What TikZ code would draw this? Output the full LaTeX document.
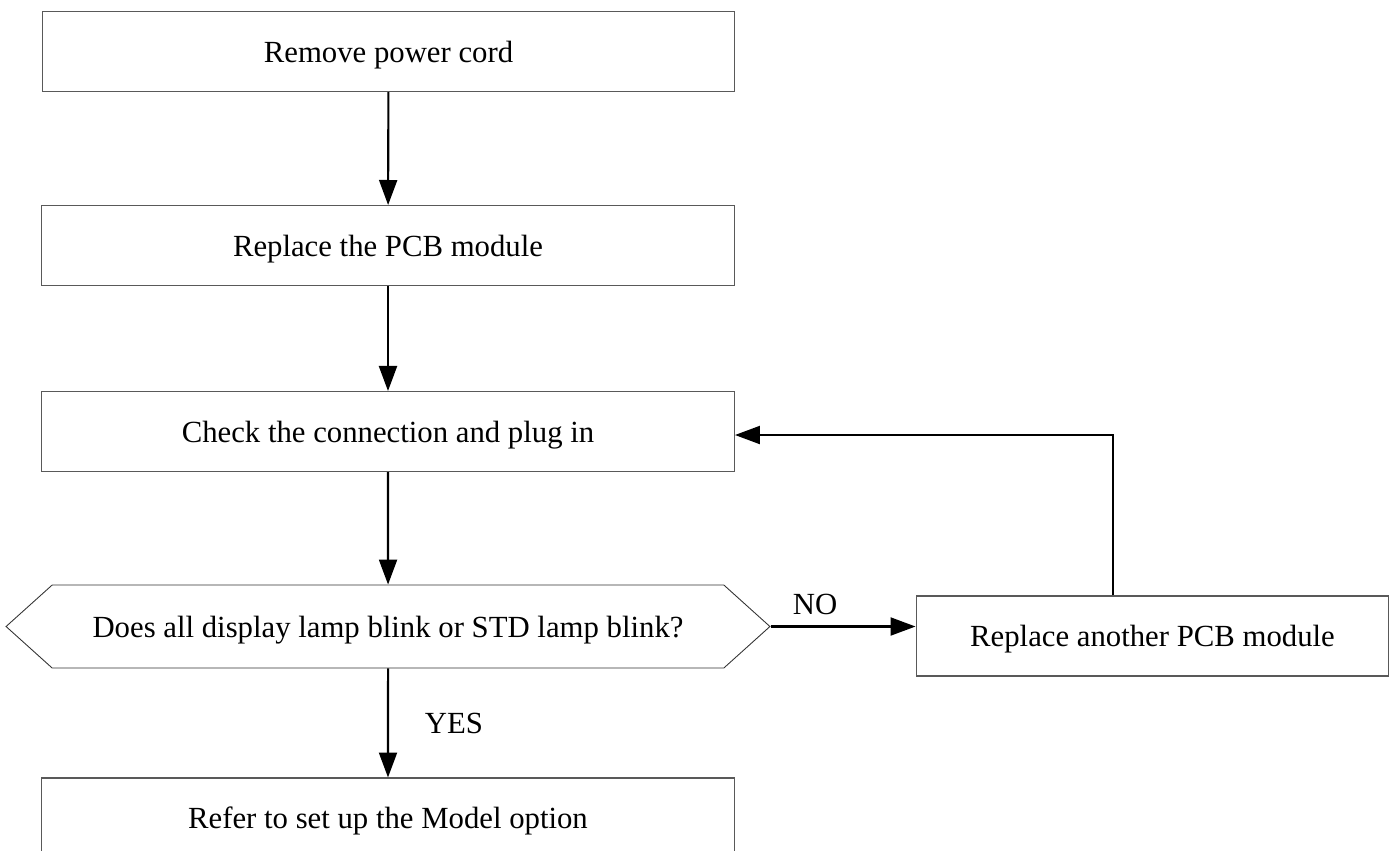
\documentclass[tikz,border=0pt]{standalone}
\usepackage{fontspec}
\setmainfont{Liberation Serif}
\usetikzlibrary{arrows.meta,shapes.symbols}

\begin{document}
\begin{tikzpicture}
          [x=0.02cm,y=-0.02cm,font=\fontsize{17.5}{21}\selectfont,
           stepbox/.style={draw=black!65, line width=.6pt, rectangle, inner sep = 0pt, text depth = 0pt, minimum height = 1.6cm, minimum width = 13.86cm, align = center},
           decision/.style={draw=black!80, line width=.5pt, signal, signal to=west and east, signal pointer angle=84, inner sep = 0pt, text depth = 0pt, minimum height = 1.66cm, minimum width = 15.28cm},
           flow/.style={line width=1.2pt, -{Triangle[length=0.5cm,width=0.36cm]}},
           lbl/.style={inner sep=0pt}]
        \clip (0,0) rectangle (1396,850);
        \node[stepbox] (cord) at (388.5,51.5) {Remove power cord};
        \node[stepbox] (pcb) at (388,245.5) {Replace the PCB module};
        \node[stepbox] (chk) at (388,431.5) {Check the connection and plug in};
        \node[decision] (blink) at (388,626.5) {Does all display lamp blink or STD lamp blink?};
        \node[stepbox, minimum width = 9.46cm] (other) at (1152.5,636) {Replace another PCB module};
        \node[stepbox] (model) at (388,818) {Refer to set up the Model option};
        \node[lbl] (no) at (815,604) {NO};
        \node[lbl] (yes) at (454,723) {YES};

      \foreach \from/\to in {cord/pcb, pcb/chk, chk/blink, blink/model}
        \draw[flow] (\from) -- (\to);
      \draw[flow] (blink.east) -- (blink.east -| other.west);
      \draw[flow] ([xshift=-0.79cm]other.north) |- ([yshift=-0.07cm]chk.east);
      \end{tikzpicture}
\end{document}
